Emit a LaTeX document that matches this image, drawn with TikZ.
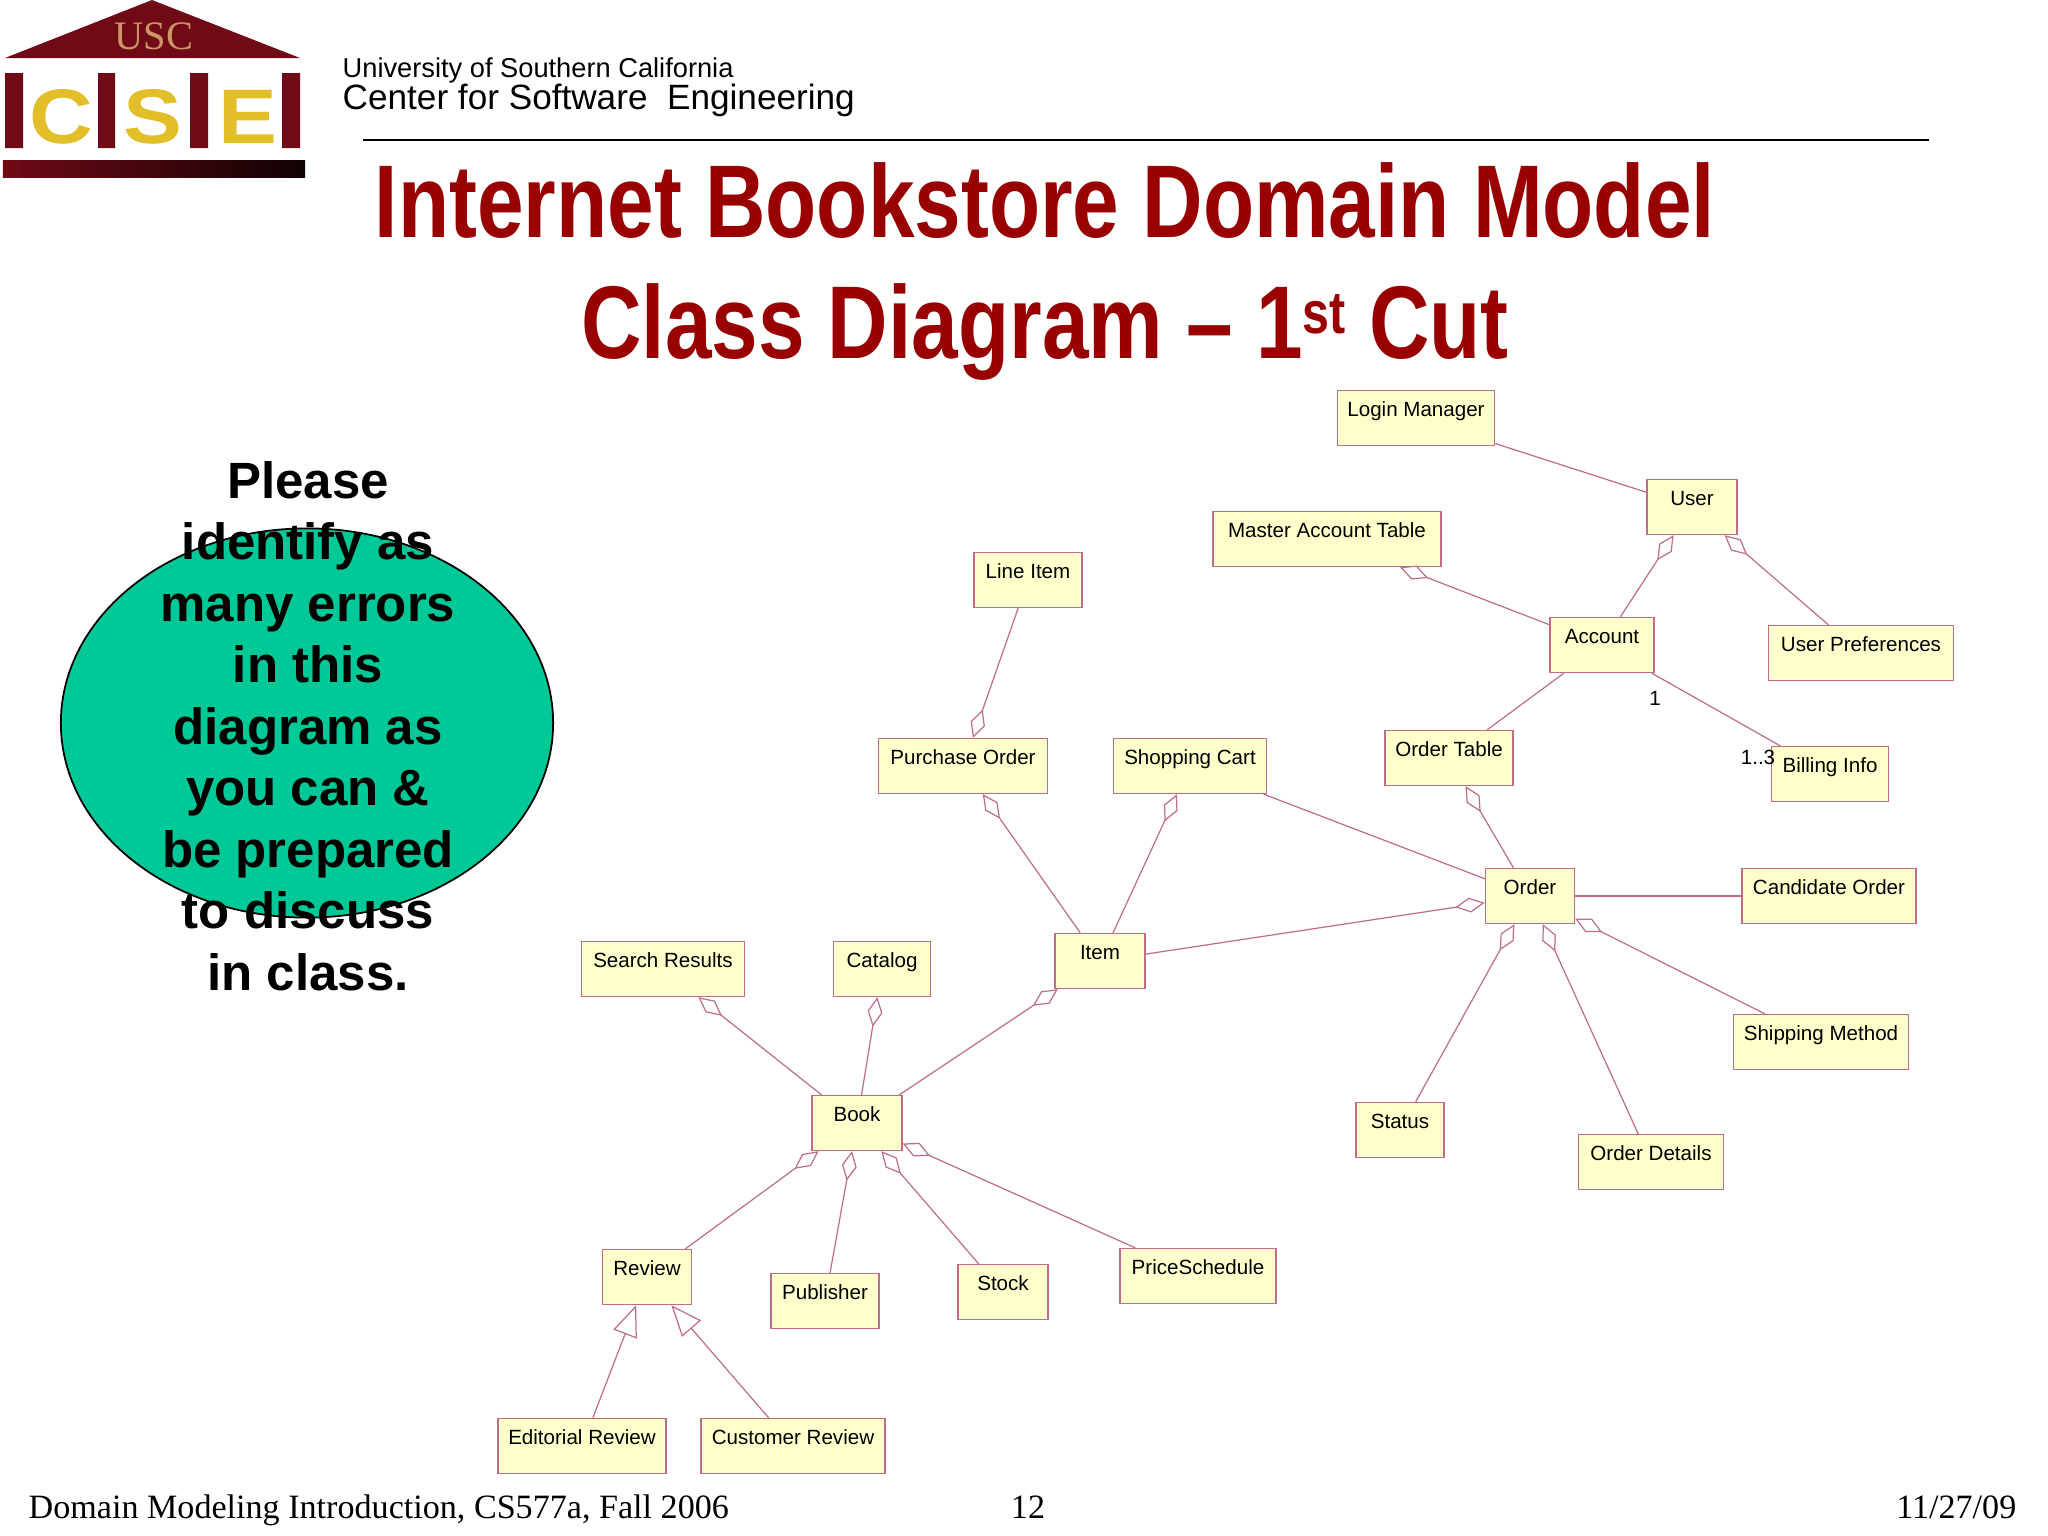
\documentclass[tikz,border=0pt]{standalone}
\usepackage{fontspec}
\usepackage{tikz}
\usetikzlibrary{arrows.meta,shapes.geometric}
\setmainfont{Liberation Sans}
\newfontfamily\titlefont[FakeStretch=0.81]{Liberation Sans Bold}
\newfontfamily\logofont[FakeStretch=1.14]{Liberation Sans Bold}
\newfontfamily\footfont{Liberation Serif}
\definecolor{roseline}{RGB}{190,110,140}
\definecolor{rosefill}{RGB}{255,255,204}
\definecolor{titlered}{RGB}{153,0,0}
\definecolor{blobgreen}{RGB}{0,200,150}
\definecolor{logored}{RGB}{112,10,22}
\definecolor{logogold}{RGB}{226,190,40}
\tikzstyle{classbox}=[rectangle,draw=roseline,fill=rosefill,line width=0.4pt,
                      inner ysep=0pt,inner xsep=0pt,text height=7.3pt,text depth=8.3pt,
                      font=\fontsize{5.85}{7}\selectfont]
\tikzstyle{multlabel}=[inner sep=0pt,font=\fontsize{5.85}{7}\selectfont]
\tikzstyle{assoc}=[draw=roseline,line width=0.35pt]
\tikzstyle{hasa}=[assoc,-{Diamond[open,length=3mm,width=1.5mm]}]
\tikzstyle{isa}=[assoc,-{Triangle[open,length=3.1mm,width=2.5mm]}]
\tikzstyle{titleline}=[inner sep=0pt,anchor=base,text=titlered,font=\titlefont\fontsize{29.4}{34}\selectfont]
\tikzstyle{footline}=[inner sep=0pt,font=\footfont\fontsize{9.7}{11}\selectfont]
\tikzstyle{logoletter}=[inner sep=0pt,text=logogold,font=\logofont\fontsize{22}{24}\selectfont]
\begin{document}
\begin{tikzpicture}[x=0.01cm,y=-0.01cm]
    \useasboundingbox (0,0) rectangle (2048,1536);
    \fill[logored] (152,0) -- (300,58) -- (5,58) -- cycle;
    \node (usc) at (154,36) [inner sep=0pt,text={rgb,255:red,205;green,150;blue,105},
        font=\footfont\fontsize{11.5}{13}\selectfont]{USC};
    \fill[logored] (5,73) rectangle (23,148) (98,73) rectangle (115,148)
        (190,73) rectangle (208,148) (282,73) rectangle (300,148);
    \node (logoc) at (61,117) [logoletter]{C};
    \node (logos) at (153,117) [logoletter]{S};
    \node (logoe) at (248,117) [logoletter]{E};
    \shade[left color=logored,right color=black!85!logored] (3,160) rectangle (305,177);

    \node (univ) at (342,70) [anchor=west,inner sep=0pt,font=\fontsize{7.75}{9}\selectfont]{University of Southern California};
    \node (csecenter) at (342,100) [anchor=west,inner sep=0pt,font=\fontsize{10}{11}\selectfont]{Center for Software~~Engineering};
    \coordinate (ruleleft) at (363,140);
    \coordinate (ruleright) at (1929,140);
    \draw[line width=0.5pt] (ruleleft) -- (ruleright);

    \node (title) at (1045,237) [titleline]{Internet Bookstore Domain Model};
    \node (subtitle) at (1045,358) [titleline]{Class Diagram – 1{\fontsize{17}{20}\selectfont\raisebox{7pt}{st}} Cut};

    \node (blob) at (307,723) [ellipse,draw=black,fill=blobgreen,line width=0.5pt,
                               minimum width=4.92cm,minimum height=3.89cm,inner sep=0pt]{};
    \node (notice) at (308,726) [inner sep=0pt,align=center,
        font=\bfseries\fontsize{14.5}{17.5}\selectfont]{Please\\identify as\\many errors\\in this\\diagram as\\you can \&\\be prepared\\to discuss\\in class.};

    \node (login) at (1416,418) [classbox,minimum width=1.57cm]{Login Manager};
    \node (user) at (1692,507) [classbox,minimum width=0.90cm]{User};
    \node (master) at (1327,539) [classbox,minimum width=2.28cm]{Master Account Table};
    \node (lineitem) at (1028,580) [classbox,minimum width=1.08cm]{Line Item};
    \node (account) at (1602,645) [classbox,minimum width=1.04cm]{Account};
    \node (prefs) at (1861,653) [classbox,minimum width=1.85cm]{User Preferences};
    \node (purchase) at (963,766) [classbox,minimum width=1.69cm]{Purchase Order};
    \node (cart) at (1190,766) [classbox,minimum width=1.53cm]{Shopping Cart};
    \node (ordertable) at (1449,758) [classbox,minimum width=1.28cm]{Order Table};
    \node (billing) at (1830,774) [classbox,minimum width=1.17cm]{Billing Info};
    \node (order) at (1530,896) [classbox,minimum width=0.89cm]{Order};
    \node (candidate) at (1829,896) [classbox,minimum width=1.74cm]{Candidate Order};
    \node (search) at (663,969) [classbox,minimum width=1.63cm]{Search Results};
    \node (catalog) at (882,969) [classbox,minimum width=0.97cm]{Catalog};
    \node (item) at (1100,961) [classbox,minimum width=0.90cm]{Item};
    \node (shipping) at (1821,1042) [classbox,minimum width=1.75cm]{Shipping Method};
    \node (book) at (857,1123) [classbox,minimum width=0.90cm]{Book};
    \node (status) at (1400,1130) [classbox,minimum width=0.88cm]{Status};
    \node (details) at (1651,1162) [classbox,minimum width=1.45cm]{Order Details};
    \node (review) at (647,1277) [classbox,minimum width=0.89cm]{Review};
    \node (publisher) at (825,1301) [classbox,minimum width=1.08cm]{Publisher};
    \node (stock) at (1003,1292) [classbox,minimum width=0.90cm]{Stock};
    \node (price) at (1198,1276) [classbox,minimum width=1.56cm]{PriceSchedule};
    \node (editorial) at (582,1446) [classbox,minimum width=1.68cm]{Editorial Review};
    \node (customer) at (793,1446) [classbox,minimum width=1.84cm]{Customer Review};

    \draw[assoc] (login) -- (user);
    \draw[hasa] (account) -- (user);
    \draw[hasa] (prefs) -- (user);
    \draw[hasa] (account) -- (master);
    \draw[assoc] (account) -- (ordertable);
    \draw[assoc] (account) -- (billing);
    \draw[hasa] (lineitem) -- (purchase);
    \draw[hasa] (item) -- (purchase);
    \draw[hasa] (item) -- (cart);
    \draw[hasa] (order) -- (ordertable);
    \draw[assoc] (cart) -- (order);
    \draw[hasa] (item) -- (order);
    \draw[assoc] (order) -- (candidate);
    \draw[hasa] (shipping) -- (order);
    \draw[hasa] (status) -- (order);
    \draw[hasa] (details) -- (order);
    \draw[hasa] (book) -- (item);
    \draw[hasa] (book) -- (search);
    \draw[hasa] (book) -- (catalog);
    \draw[hasa] (review) -- (book);
    \draw[hasa] (publisher) -- (book);
    \draw[hasa] (stock) -- (book);
    \draw[hasa] (price) -- (book);
    \draw[isa] (editorial) -- (review);
    \draw[isa] (customer) -- (review);

    \node (multone) at (1655,698) [multlabel]{1};
    \node (multmany) at (1758,757) [multlabel]{1..3};

    \node (footleft) at (28,1518) [footline,anchor=base west]{Domain Modeling Introduction, CS577a, Fall 2006};
    \node (footpage) at (1028,1518) [footline,anchor=base]{12};
    \node (footdate) at (2017,1518) [footline,anchor=base east]{11/27/09};
\end{tikzpicture}
\end{document}
